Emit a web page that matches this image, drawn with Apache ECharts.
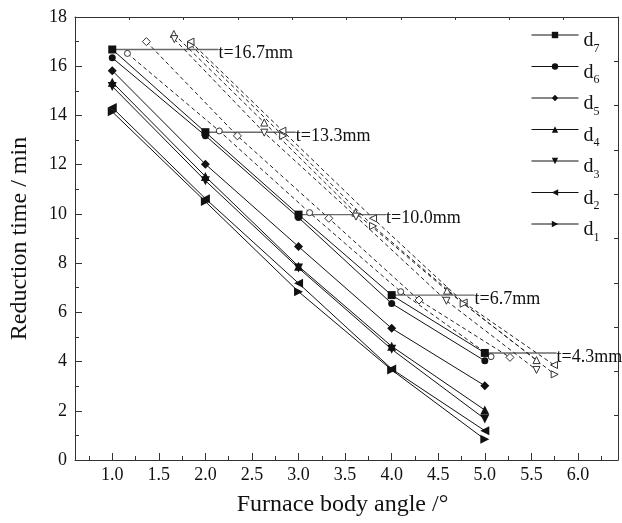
<!DOCTYPE html>
<html>
<head>
<meta charset="utf-8">
<script src="https://cdn.jsdelivr.net/npm/echarts@6/dist/echarts.min.js"></script>
<style>html,body{margin:0;padding:0;background:#fff;}#c{width:622px;height:523px;}</style>
</head>
<body>
<div id="c"></div>
<script>
// ---- data ----
var angles = [1, 2, 3, 4, 5];
var d7 = [16.68, 13.32, 9.97, 6.70, 4.35];
var d6 = [16.34, 13.18, 9.85, 6.36, 4.03];
var d5 = [15.82, 12.02, 8.67, 5.35, 3.02];
var d4 = [15.35, 11.52, 7.87, 4.62, 2.03];
var d3 = [15.18, 11.35, 7.80, 4.50, 1.67];
var d2 = [14.32, 10.62, 7.18, 3.70, 1.19];
var d1 = [14.15, 10.50, 6.84, 3.66, 0.84];

// hollow (equivalent) points: [angle, time]
var h6 = [[1.163, 16.52], [2.149, 13.37], [3.119, 10.05], [4.097, 6.84], [5.067, 4.20]];
var h5 = [[1.366, 17.00], [2.344, 13.17], [3.325, 9.82], [4.293, 6.50], [5.270, 4.17]];
var h4 = [[1.661, 17.31], [2.632, 13.71], [3.610, 10.05], [4.595, 6.88], [5.555, 4.06]];
var h3 = [[1.667, 17.10], [2.632, 13.30], [3.617, 9.89], [4.588, 6.47], [5.555, 3.66]];
var h2 = [[1.840, 17.00], [2.827, 13.38], [3.800, 9.82], [4.773, 6.40], [5.743, 3.86]];
var h1 = [[1.846, 16.85], [2.835, 13.17], [3.800, 9.51], [4.773, 6.35], [5.750, 3.48]];

// thickness reference lines
var tLabels = ['t=16.7mm', 't=13.3mm', 't=10.0mm', 't=6.7mm', 't=4.3mm'];
var tLineStartX = [1, 2, 3, 4, 5];
var tLineEndX = [2.14, 2.97, 3.94, 4.89, 5.77];
var tLineY = [16.68, 13.32, 9.97, 6.70, 4.35];

// ticks
var xMajorTicks = [1.0, 1.5, 2.0, 2.5, 3.0, 3.5, 4.0, 4.5, 5.0, 5.5, 6.0];
var xMinorTicks = [0.75, 1.25, 1.75, 2.25, 2.75, 3.25, 3.75, 4.25, 4.75, 5.25, 5.75, 6.25];
var legendNames = ['d7', 'd6', 'd5', 'd4', 'd3', 'd2', 'd1'];

// ---- chart ----
var FONT = 'Liberation Serif';
var chart = echarts.init(document.getElementById('c'), null, {renderer: 'canvas'});

function zip(xs, ys) { return xs.map(function (x, i) { return [x, ys[i]]; }); }

var solidDefs = [
  {name: 'd7', data: d7, symbol: 'rect', size: 8, rot: 0},
  {name: 'd6', data: d6, symbol: 'circle', size: 7, rot: 0},
  {name: 'd5', data: d5, symbol: 'diamond', size: 9, rot: 0},
  {name: 'd4', data: d4, symbol: 'triangle', size: 9, rot: 0},
  {name: 'd3', data: d3, symbol: 'triangle', size: 9, rot: 180},
  {name: 'd2', data: d2, symbol: 'triangle', size: 9, rot: 90},
  {name: 'd1', data: d1, symbol: 'triangle', size: 9, rot: -90}
];
var hollowDefs = [
  {data: h6, symbol: 'circle', size: 6, rot: 0},
  {data: h5, symbol: 'diamond', size: 8, rot: 0},
  {data: h4, symbol: 'triangle', size: 7, rot: 0},
  {data: h3, symbol: 'triangle', size: 7, rot: 180},
  {data: h2, symbol: 'triangle', size: 7, rot: 90},
  {data: h1, symbol: 'triangle', size: 7, rot: -90}
];

var series = [];
// t lines
tLabels.forEach(function (lab, i) {
  series.push({
    type: 'line', name: lab, silent: true, z: 1,
    data: [[tLineStartX[i], tLineY[i]], [tLineEndX[i], tLineY[i]]],
    symbol: 'none',
    lineStyle: {color: '#6a6a6a', width: 1.4},
    endLabel: {show: true, formatter: lab, distance: 0, offset: [0, 4],
      fontFamily: FONT, fontSize: 18, color: '#111'},
    animation: false
  });
});
// hollow dashed
hollowDefs.forEach(function (h, i) {
  series.push({
    type: 'line', name: 'h' + i, silent: true, z: 2,
    data: h.data,
    symbol: h.symbol, symbolSize: h.size, symbolRotate: h.rot,
    itemStyle: {color: '#fff', borderColor: '#333', borderWidth: 1},
    lineStyle: {color: '#222', width: 1, type: [4, 3]},
    animation: false
  });
});
// solid
solidDefs.forEach(function (s) {
  series.push({
    type: 'line', name: s.name, z: 3,
    data: zip(angles, s.data),
    symbol: s.symbol, symbolSize: s.size, symbolRotate: s.rot,
    itemStyle: {color: '#111'},
    lineStyle: {color: '#111', width: 1},
    animation: false
  });
});

var axisLineStyle = {color: '#333', width: 1};

chart.setOption({
  backgroundColor: '#fff',
  animation: false,
  grid: {left: 70, right: 4, top: 17, bottom: 63, containLabel: false},
  legend: {
    data: legendNames,
    orient: 'vertical',
    left: 526, top: 26,
    itemWidth: 47, itemHeight: 8, itemGap: 8,
    selectedMode: false,
    lineStyle: {width: 1},
    formatter: function (n) { return '{m|d}{s|' + n.slice(1) + '}'; },
    textStyle: {
      fontFamily: FONT, fontSize: 20, color: '#111',
      rich: {
        m: {fontFamily: FONT, fontSize: 20, color: '#111', padding: [12, 0, 0, 0]},
        s: {fontFamily: FONT, fontSize: 12, color: '#111', padding: [27, 0, 0, 0]}
      }
    }
  },
  xAxis: [
    {
      type: 'value', min: 0.6, max: 6.43, position: 'bottom',
      name: 'Furnace body angle /°', nameLocation: 'middle', nameGap: 33,
      nameTextStyle: {fontFamily: FONT, fontSize: 24, color: '#111', padding: [0, 8, 0, 0]},
      axisLine: {show: true, lineStyle: axisLineStyle},
      axisTick: {show: true, inside: true, length: 7, customValues: xMajorTicks, lineStyle: axisLineStyle},
      axisLabel: {customValues: xMajorTicks, formatter: function (v) { return Number(v).toFixed(1); },
        fontFamily: FONT, fontSize: 18, color: '#111', margin: 6},
      splitLine: {show: false}
    },
    {
      type: 'value', min: 0.6, max: 6.43, position: 'bottom',
      axisLine: {show: false},
      axisTick: {show: true, inside: true, length: 4, customValues: xMinorTicks, lineStyle: axisLineStyle},
      axisLabel: {show: false},
      splitLine: {show: false}
    },
    {
      type: 'value', min: 0, max: 10, interval: 1, position: 'top',
      axisLine: {show: true, lineStyle: axisLineStyle},
      axisTick: {show: true, inside: true, length: 3, lineStyle: axisLineStyle},
      axisLabel: {show: false},
      splitLine: {show: false}
    }
  ],
  yAxis: [
    {
      type: 'value', min: 0, max: 18, interval: 2, position: 'left',
      name: 'Reduction time / min', nameLocation: 'middle', nameGap: 43,
      nameTextStyle: {fontFamily: FONT, fontSize: 24, color: '#111'},
      axisLine: {show: true, lineStyle: axisLineStyle},
      axisTick: {show: true, inside: true, length: 7, lineStyle: axisLineStyle},
      minorTick: {show: true, splitNumber: 2, length: 4, lineStyle: axisLineStyle},
      axisLabel: {fontFamily: FONT, fontSize: 18, color: '#111', margin: 8},
      splitLine: {show: false}, minorSplitLine: {show: false}
    },
    {
      type: 'value', min: 0, max: 10, interval: 1, position: 'right',
      axisLine: {show: true, lineStyle: axisLineStyle},
      axisTick: {show: true, inside: true, length: 4, lineStyle: axisLineStyle},
      axisLabel: {show: false},
      splitLine: {show: false}
    }
  ],
  series: series
});
</script>
</body>
</html>
